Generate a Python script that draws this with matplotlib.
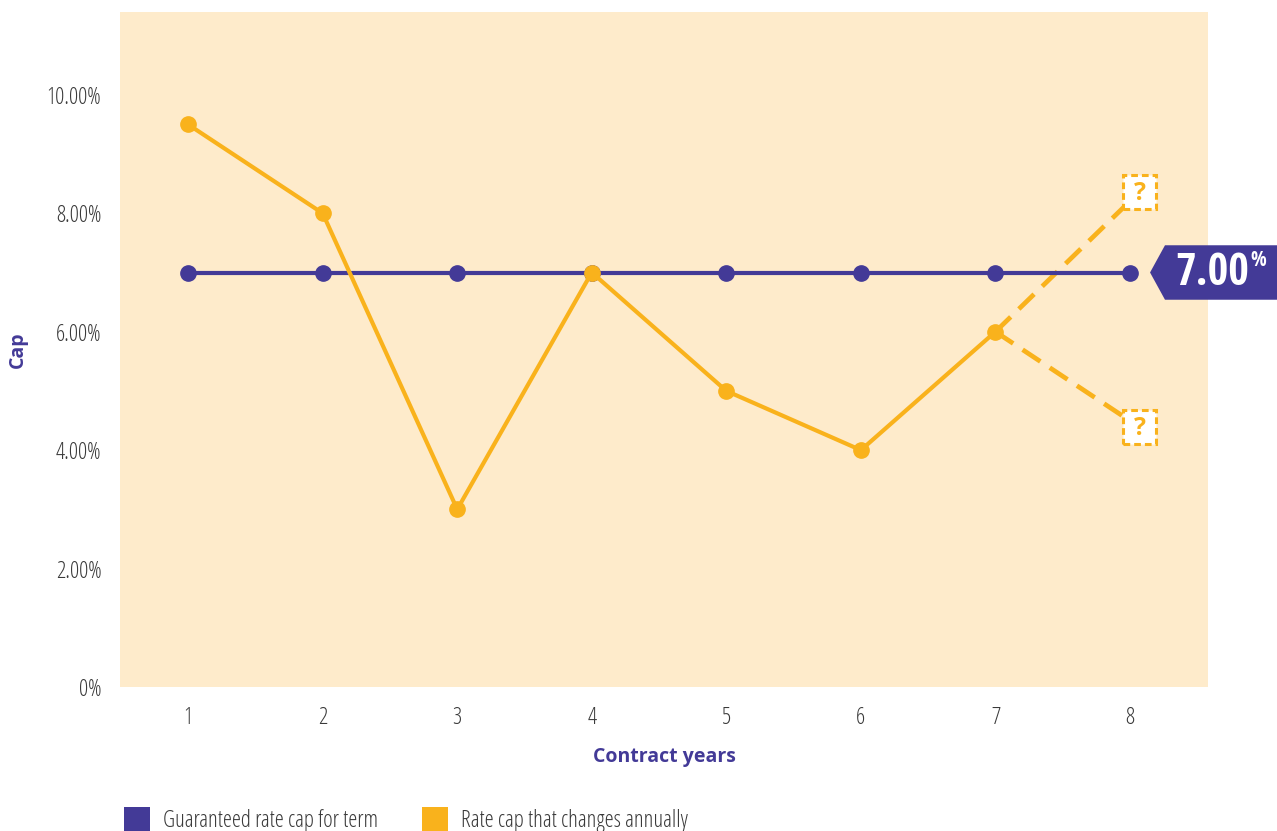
import matplotlib
matplotlib.use('Agg')
import matplotlib.pyplot as plt
from matplotlib.patches import Patch, Polygon, Rectangle

plt.rcParams['font.family'] = ['Open Sans', 'DejaVu Sans']

years = [1, 2, 3, 4, 5, 6, 7, 8]
guaranteed = [7, 7, 7, 7, 7, 7, 7, 7]
annual_years = [1, 2, 3, 4, 5, 6, 7]
annual = [9.5, 8.0, 3.0, 7.0, 5.0, 4.0, 6.0]
proj_up = 8.36
proj_down = 4.39
y_ticks = [0, 2, 4, 6, 8, 10]
y_labels = ['0%', '2.00%', '4.00%', '6.00%', '8.00%', '10.00%']

purple = '#433A97'
orange = '#F9B21C'
bg = '#FEEBCB'
tick_col = '#3a3a3a'
light = dict(family=['Open Sans', 'DejaVu Sans'], weight=300, stretch='condensed')

fig = plt.figure(figsize=(12.77, 8.31), dpi=100)
ax = fig.add_axes([0.094, 0.1733, 0.852, 0.8123])
ax.set_facecolor(bg)
for s in ax.spines.values():
    s.set_visible(False)

ax.plot(years, guaranteed, color=purple, lw=3, marker='o', ms=11, zorder=4)
ax.plot(annual_years, annual, color=orange, lw=3, marker='o', ms=11, zorder=5)

# projected (unknown) caps for year 8, boxes sit a bit right of the tick
bx = years[-1] + 0.07
bw, bh = 0.25, 0.57
for v in (proj_up, proj_down):
    ax.plot([annual_years[-1], bx], [annual[-1], v], color=orange, lw=3.4,
            ls=(0, (4.5, 2.4)), zorder=3)
    ax.add_patch(Rectangle((bx - bw / 2, v - bh / 2), bw, bh, fc='white',
                           ec=orange, lw=2.2, ls=(0, (2.2, 1.3)), zorder=6))
    ax.text(bx, v - 0.02, '?', ha='center', va='center', fontsize=18,
            fontweight='bold', color=orange, zorder=7)

# value tag for the guaranteed cap
g = guaranteed[-1]
tag = Polygon([(8.149, g), (8.26, g + 0.46), (9.2, g + 0.46),
               (9.2, g - 0.46), (8.26, g - 0.46)], closed=True,
              fc=purple, ec='none', clip_on=False, zorder=6)
ax.add_patch(tag)
ax.text(8.335, g - 0.02, f'{g:.2f}', color='white', fontsize=32,
        family=['Open Sans Condensed', 'DejaVu Sans'], fontweight='bold',
        ha='left', va='center', clip_on=False, zorder=7)
ax.text(8.895, g + 0.2, '%', color='white', fontsize=15,
        family=['Open Sans Condensed', 'DejaVu Sans'], fontweight='bold',
        ha='left', va='center', clip_on=False, zorder=7)

ax.set_xlim(0.494, 8.58)
ax.set_ylim(0, 11.4)
ax.set_xticks(years)
ax.set_yticks(y_ticks)
ax.set_yticklabels(y_labels)
ax.tick_params(axis='both', length=0, labelcolor=tick_col)
ax.tick_params(axis='y', pad=13.5)
ax.tick_params(axis='x', pad=14)
for lab in ax.get_xticklabels() + ax.get_yticklabels():
    lab.set_fontproperties(light)
    lab.set_fontsize(16.5)

ax.set_xlabel('Contract years', fontsize=14, fontweight='bold', color=purple,
              family=['Open Sans', 'DejaVu Sans'])
ax.set_ylabel('Cap', fontsize=14, fontweight='bold', color=purple,
              family=['Open Sans', 'DejaVu Sans'])
ax.xaxis.set_label_coords(0.5, -0.104)
ax.yaxis.set_label_coords(-0.094, 0.5)
ax.xaxis.label.set_va('center')
ax.yaxis.label.set_va('center')

handles = [Patch(fc=purple, ec='none'), Patch(fc=orange, ec='none')]
leg = fig.legend(handles, ['Guaranteed rate cap for term', 'Rate cap that changes annually'],
                 loc='lower left', bbox_to_anchor=(0.081, -0.027), ncol=2, frameon=False,
                 handlelength=1.15, handleheight=1.25, columnspacing=1.9,
                 handletextpad=0.55, labelcolor=tick_col, prop=dict(light, size=16.5))

fig.savefig('out.png', dpi=100)
